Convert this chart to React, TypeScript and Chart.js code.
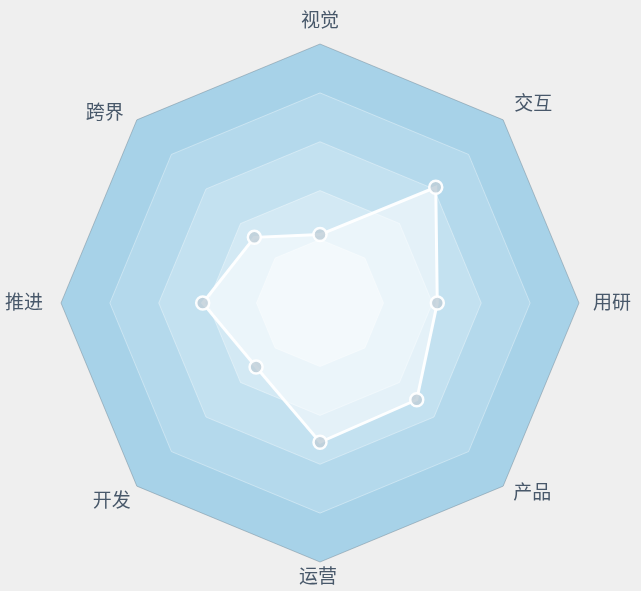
import { useEffect, useRef } from "react";
import { Chart, registerables } from "chart.js";

Chart.register(...registerables);

const categories = ["视觉", "交互", "用研", "产品", "运营", "开发", "推进", "跨界"];
const scores = [1.1, 3.05, 2.1, 2.5, 2.55, 1.55, 2.1, 1.6];
const ringValues = [1, 2, 3, 4, 5];
const scaleMin = -0.3;
const scaleMax = 5;

// styling
const bandColors = ["#e4f1f8", "#d3e9f4", "#c3e1f0", "#b4d9ec", "#a7d2e8"];
const labelNudges: [number, number][] = [
  [0, -24],
  [30, -17],
  [33, -1],
  [29, 6],
  [-2, 14],
  [-25, 14],
  [-37, -1],
  [-32, -8],
];

const bandsPlugin = {
  id: "bands",
  beforeDatasetsDraw(chart: any) {
    const scale = chart.scales.r;
    const ctx = chart.ctx;
    const n = chart.data.labels.length;
    ctx.save();
    for (let k = ringValues.length - 1; k >= 0; k--) {
      const dist = scale.getDistanceFromCenterForValue(ringValues[k]);
      ctx.beginPath();
      for (let i = 0; i < n; i++) {
        const p = scale.getPointPosition(i, dist);
        if (i === 0) ctx.moveTo(p.x, p.y);
        else ctx.lineTo(p.x, p.y);
      }
      ctx.closePath();
      ctx.fillStyle = bandColors[k];
      ctx.fill();
      ctx.lineWidth = 1;
      ctx.strokeStyle = k === ringValues.length - 1 ? "rgba(110,130,145,0.45)" : "rgba(255,255,255,0.35)";
      ctx.stroke();
    }
    ctx.restore();
  },
  afterDatasetsDraw(chart: any) {
    const scale = chart.scales.r;
    const ctx = chart.ctx;
    const labels = chart.data.labels as string[];
    const outer = scale.getDistanceFromCenterForValue(scaleMax);
    ctx.save();
    ctx.fillStyle = "#48586a";
    ctx.font = "19px 'Noto Sans CJK SC', sans-serif";
    ctx.textAlign = "center";
    ctx.textBaseline = "middle";
    labels.forEach((lab, i) => {
      const p = scale.getPointPosition(i, outer);
      const [dx, dy] = labelNudges[i];
      ctx.fillText(lab, p.x + dx, p.y + dy);
    });
    ctx.restore();
  },
};

export default function App() {
  const ref = useRef<HTMLCanvasElement>(null);
  useEffect(() => {
    if (!ref.current) return;
    const chart = new Chart(ref.current, {
      type: "radar",
      data: {
        labels: categories,
        datasets: [
          {
            data: scores,
            backgroundColor: "rgba(255,255,255,0.55)",
            borderColor: "rgba(255,255,255,0.95)",
            borderWidth: 3,
            pointRadius: 6.5,
            pointBorderWidth: 2.5,
            pointBorderColor: "rgba(255,255,255,0.95)",
            pointBackgroundColor: "rgba(190,205,215,0.8)",
            fill: "start",
          },
        ],
      },
      options: {
        animation: false,
        responsive: false,
        devicePixelRatio: 1,
        layout: { padding: { top: 44, bottom: 29, left: 0, right: 0 } },
        plugins: { legend: { display: false }, tooltip: { enabled: false } },
        scales: {
          r: {
            min: scaleMin,
            max: scaleMax,
            ticks: { display: false },
            grid: { display: false },
            angleLines: { display: false },
            pointLabels: { display: false },
          },
        },
      },
      plugins: [bandsPlugin],
    });
    return () => chart.destroy();
  }, []);
  return (
    <div style={{ position: "fixed", left: 0, top: 0, width: 641, height: 591, background: "#efefef" }}>
      <canvas ref={ref} width={641} height={591} style={{ position: "absolute", left: 0, top: 0 }} />
    </div>
  );
}
